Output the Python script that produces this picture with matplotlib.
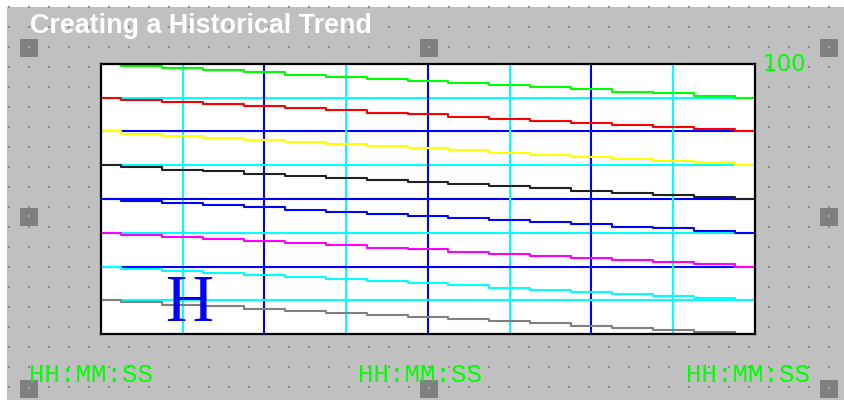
import matplotlib
matplotlib.use("Agg")
import matplotlib.pyplot as plt
from matplotlib.patches import Rectangle

# TREND DATA (percent of span, 17 samples across the chart)
SAMPLES = list(range(17))

green_pen = [100.0, 99.2, 98.4, 97.7, 96.9, 96.1, 95.3, 94.5, 93.8, 93.0, 92.2, 91.4, 90.6, 89.8, 89.1, 88.3, 87.5]
red_pen = [87.5, 86.7, 85.9, 85.2, 84.4, 83.6, 82.8, 82.0, 81.3, 80.5, 79.7, 78.9, 78.1, 77.3, 76.6, 75.8, 75.0]
yellow_pen = [75.0, 74.2, 73.4, 72.7, 71.9, 71.1, 70.3, 69.5, 68.8, 68.0, 67.2, 66.4, 65.6, 64.8, 64.1, 63.3, 62.5]
black_pen = [62.5, 61.7, 60.9, 60.2, 59.4, 58.6, 57.8, 57.0, 56.3, 55.5, 54.7, 53.9, 53.1, 52.3, 51.6, 50.8, 50.0]
blue_pen = [50.0, 49.2, 48.4, 47.7, 46.9, 46.1, 45.3, 44.5, 43.8, 43.0, 42.2, 41.4, 40.6, 39.8, 39.1, 38.3, 37.5]
magenta_pen = [37.5, 36.7, 35.9, 35.2, 34.4, 33.6, 32.8, 32.0, 31.3, 30.5, 29.7, 28.9, 28.1, 27.3, 26.6, 25.8, 25.0]
cyan_pen = [25.0, 24.2, 23.4, 22.7, 21.9, 21.1, 20.3, 19.5, 18.8, 18.0, 17.2, 16.4, 15.6, 14.8, 14.1, 13.3, 12.5]
gray_pen = [12.5, 11.7, 10.9, 10.2, 9.4, 8.6, 7.8, 7.0, 6.3, 5.5, 4.7, 3.9, 3.1, 2.3, 1.6, 0.8, 0.0]

TITLE = "Creating a Historical Trend"
SCALE_MAX_LABEL = "100"
TIME_LABELS = ["HH:MM:SS", "HH:MM:SS", "HH:MM:SS"]
CURSOR_LABEL = "H"

W, H = 845, 400
PANEL_GRAY = "#c0c0c0"

fig = plt.figure(figsize=(W / 100, H / 100), dpi=100, facecolor="white")

# background panel in pixel coords
bg = fig.add_axes([0, 0, 1, 1])
bg.set_xlim(0, W)
bg.set_ylim(H, 0)
bg.axis("off")
bg.add_patch(Rectangle((7, 7), W - 7, H - 7, facecolor=PANEL_GRAY, edgecolor="none"))

# dot grid
dot_x = []
dot_y = []
for yy in range(7, H, 20):
    for xx in range(9, W, 20):
        dot_x.append(xx)
        dot_y.append(yy)
bg.scatter(dot_x, dot_y, s=1.3, marker="s", color="#8a8a8a", linewidths=0, zorder=1)

# selection handles
for cx in (29, 429, 829):
    for cy in (48, 217, 389):
        if cx == 429 and cy == 217:
            continue
        bg.add_patch(Rectangle((cx - 9, cy - 9), 18, 18, facecolor="#808080",
                               edgecolor="none", zorder=2))
        bg.scatter([cx], [cy - 1], s=1.3, marker="s", color="#a8a8a8", linewidths=0, zorder=3)

bg.text(30, 33, TITLE, color="white", fontsize=19.4, fontweight="bold",
        family="Liberation Sans", va="baseline", ha="left", zorder=4)
bg.text(762, 71, SCALE_MAX_LABEL, color="#00ff00", fontsize=16.5,
        family="DejaVu Sans", va="baseline", ha="left", zorder=4)
for lbl, xx in zip(TIME_LABELS, (29, 358, 686)):
    bg.text(xx, 382, lbl, color="#00ff00", fontsize=18.5,
            family="Liberation Mono", va="baseline", ha="left", zorder=4)

# TREND WINDOW
ax = fig.add_axes([101 / W, (H - 334) / H, 654 / W, 270 / H])
ax.set_facecolor("white")
ax.set_xlim(0, 16)
ax.set_ylim(0, 100)
ax.set_xticks([])
ax.set_yticks([])
for sp in ax.spines.values():
    sp.set_color("black")
    sp.set_linewidth(1.6)

# grid divisions: 8 x 8, alternating cyan / blue
for i in range(1, 8):
    col = "#00ffff" if i % 2 == 1 else "#0000ff"
    ax.axvline(i * 2, color=col, linewidth=1.5, zorder=1)
    ax.axhline(100 - i * 12.5, color=col, linewidth=1.5, zorder=1)

pens = [
    (green_pen, "#00ff00"),
    (red_pen, "#ff0000"),
    (yellow_pen, "#ffff00"),
    (black_pen, "#202020"),
    (blue_pen, "#0000ff"),
    (magenta_pen, "#ff00ff"),
    (cyan_pen, "#00ffff"),
    (gray_pen, "#808080"),
]
for vals, col in pens:
    ax.plot(SAMPLES, vals, color=col, linewidth=1.5, drawstyle="steps-mid",
            zorder=2, clip_on=False)

ax.text(189, 321, CURSOR_LABEL, transform=bg.transData, color="#0000ff",
        fontsize=48, family="Liberation Serif", ha="center", va="baseline",
        zorder=5, clip_on=False)

fig.savefig("out.png", dpi=100, facecolor="white")
